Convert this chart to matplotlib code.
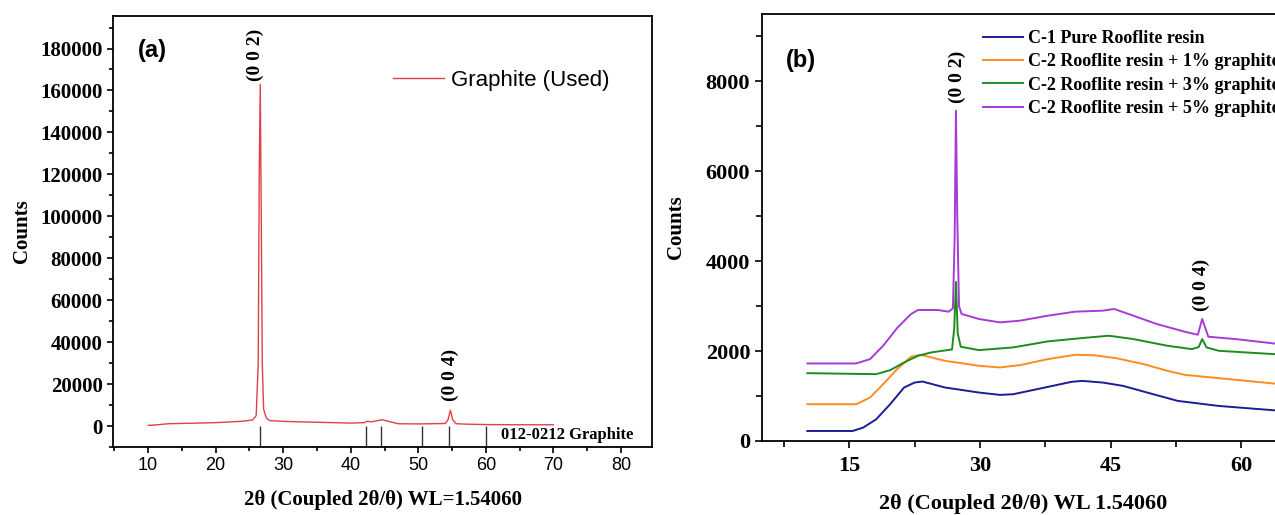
import matplotlib
matplotlib.use("Agg")
import matplotlib.pyplot as plt
from matplotlib.ticker import MultipleLocator

# ---------------- data (a) ----------------
graphite_x = [10, 11, 13, 16, 20, 24, 25.5, 26.0, 26.3, 26.45, 26.6, 26.75, 26.9, 27.1, 27.5, 28, 30, 35, 40,
              42.0, 42.4, 43.0, 44.0, 44.7, 45.5, 47, 50, 54.0, 54.4, 54.75, 55.1, 55.6, 57, 60, 65, 70]
graphite_y = [300, 500, 1100, 1300, 1600, 2300, 2900, 5000, 30000, 120000, 163000, 100000, 30000, 8000, 3800, 2600, 2200, 1800, 1400,
              1600, 2300, 2000, 2600, 3000, 2300, 1100, 1000, 1200, 3000, 7500, 3000, 1100, 900, 700, 600, 600]
ref_pattern = [26.5, 42.3, 44.5, 50.6, 54.6, 60.0]

# ---------------- data (b) ----------------
bx = [10.2, 15.4, 16.6, 18.1, 19.7, 21.3, 22.5, 23.4, 26.0, 29.9, 32.3, 33.8, 37.8, 40.5, 41.7, 44.1, 46.4, 49.6, 52.7, 57.4, 63.7, 66]
by = [223, 223, 297, 483, 818, 1190, 1300, 1323, 1190, 1078, 1026, 1040, 1204, 1316, 1338, 1300, 1227, 1056, 892, 780, 684, 660]

ox = [10.2, 15.8, 17.4, 18.9, 20.5, 22.1, 23.2, 26.0, 29.9, 32.3, 34.6, 37.8, 40.9, 42.9, 45.6, 48.8, 51.5, 53.5, 57.4, 63.7, 66]
oy = [818, 818, 967, 1264, 1599, 1874, 1918, 1784, 1673, 1636, 1688, 1822, 1918, 1911, 1844, 1710, 1561, 1472, 1398, 1279, 1260]

gx = [10.2, 18.1, 19.7, 21.3, 22.9, 24.4, 26.8, 27.05, 27.25, 27.45, 27.8, 29.9, 33.8, 37.8, 41.7, 44.8, 47.6, 51.5, 54.3, 55.1, 55.5, 56.0, 57.4, 63.7, 66]
gy = [1509, 1487, 1576, 1747, 1896, 1970, 2037, 2500, 3540, 2400, 2097, 2022, 2082, 2216, 2290, 2342, 2268, 2119, 2045, 2090, 2268, 2082, 2007, 1933, 1920]

px = [10.2, 15.8, 17.4, 18.9, 20.5, 22.1, 22.9, 25.2, 26.4, 26.9, 27.1, 27.25, 27.4, 27.6, 27.9, 29.9, 32.3, 34.6, 37.8, 40.9, 44.1, 45.4,
      47.6, 50.3, 53.5, 55.0, 55.5, 56.2, 59.3, 63.7, 66]
py = [1725, 1725, 1822, 2119, 2513, 2825, 2914, 2914, 2877, 2950, 4500, 7350, 5000, 3000, 2825, 2714, 2639, 2677, 2788, 2877, 2900, 2937,
      2788, 2602, 2431, 2364, 2714, 2320, 2268, 2171, 2150]

series_b = [
    (bx, by, "#1c1c96", "C-1 Pure Rooflite resin"),
    (ox, oy, "#ff8c1e", "C-2 Rooflite resin + 1% graphite"),
    (gx, gy, "#1e8c1e", "C-2 Rooflite resin + 3% graphite"),
    (px, py, "#a83ad8", "C-2 Rooflite resin + 5% graphite"),
]

W, H = 1275, 515
fig = plt.figure(figsize=(W / 100, H / 100), dpi=100)

serif = "Liberation Serif"
sans = "Liberation Sans"

# ---------------- panel (a) ----------------
axa = fig.add_axes([113 / W, (H - 447) / H, 539 / W, 431 / H])
axa.plot(graphite_x, graphite_y, color="#e0404a", lw=1.0, label="Graphite (Used)")
axa.vlines(ref_pattern, -10000, 0, color="#333333", lw=1.0)
axa.set_xlim(4.8, 84.6)
axa.set_ylim(-10000, 195500)
axa.xaxis.set_major_locator(MultipleLocator(10))
axa.xaxis.set_minor_locator(MultipleLocator(5))
axa.yaxis.set_major_locator(MultipleLocator(20000))
axa.yaxis.set_minor_locator(MultipleLocator(10000))
axa.tick_params(axis="both", which="major", direction="out", length=4, width=1.2)
axa.tick_params(axis="both", which="minor", direction="out", length=3, width=1.2)
for lab in axa.get_xticklabels():
    lab.set_fontfamily(sans); lab.set_fontsize(13)
for lab in axa.get_yticklabels():
    lab.set_fontfamily(serif); lab.set_fontsize(15); lab.set_fontweight("bold")
for s in axa.spines.values():
    s.set_linewidth(1.3)
axa.set_xlabel("2θ (Coupled 2θ/θ) WL=1.54060", fontfamily=serif, fontweight="bold", fontsize=15, labelpad=11)
axa.set_ylabel("Counts", fontfamily=serif, fontweight="bold", fontsize=15, labelpad=6)
axa.text(0.0724, 0.921, "(a)", transform=axa.transAxes, ha="center", va="center",
         fontfamily=sans, fontweight="bold", fontsize=17)
axa.text(25.9, 177000, "(0 0 2)", rotation=90, ha="center", va="center",
         fontfamily=serif, fontweight="bold", fontsize=14)
axa.text(54.8, 24300, "(0 0 4)", rotation=90, ha="center", va="center",
         fontfamily=serif, fontweight="bold", fontsize=14)
axa.text(62.2, -4300, "012-0212 Graphite", ha="left", va="center",
         fontfamily=serif, fontweight="bold", fontsize=12)
axa.legend(loc="upper left", bbox_to_anchor=(393 / W, 1 - 70 / H), bbox_transform=fig.transFigure,
           frameon=False, borderpad=0, borderaxespad=0, handlelength=2.3, handletextpad=0.3,
           prop={"family": sans, "size": 16})

# ---------------- panel (b) ----------------
axb = fig.add_axes([762 / W, (H - 441) / H, 523 / W, 427 / H])
for xs, ys, c, lab in series_b:
    axb.plot(xs, ys, color=c, lw=1.4, label=lab)
axb.set_xlim(5, 65)
axb.set_ylim(0, 9500)
axb.xaxis.set_major_locator(MultipleLocator(15))
axb.xaxis.set_minor_locator(MultipleLocator(7.5))
axb.yaxis.set_major_locator(MultipleLocator(2000))
axb.yaxis.set_minor_locator(MultipleLocator(1000))
axb.tick_params(axis="both", which="major", direction="out", length=5, width=1.2)
axb.tick_params(axis="both", which="minor", direction="out", length=4, width=1.2)
for lab in axb.get_xticklabels() + axb.get_yticklabels():
    lab.set_fontfamily(serif); lab.set_fontsize(16); lab.set_fontweight("bold")
axb.tick_params(axis="x", which="major", pad=6)
for s in axb.spines.values():
    s.set_linewidth(1.3)
axb.set_xlabel("2θ (Coupled 2θ/θ) WL 1.54060", fontfamily=serif, fontweight="bold", fontsize=16, labelpad=13)
axb.set_ylabel("Counts", fontfamily=serif, fontweight="bold", fontsize=15, labelpad=14)
axb.text(0.0746, 0.892, "(b)", transform=axb.transAxes, ha="center", va="center",
         fontfamily=sans, fontweight="bold", fontsize=17)
axb.text(27.4, 8100, "(0 0 2)", rotation=90, ha="center", va="center",
         fontfamily=serif, fontweight="bold", fontsize=14)
axb.text(55.4, 3470, "(0 0 4)", rotation=90, ha="center", va="center",
         fontfamily=serif, fontweight="bold", fontsize=14)
axb.legend(loc="upper left", bbox_to_anchor=(983 / W, 1 - 30 / H), bbox_transform=fig.transFigure,
           frameon=False, borderpad=0, borderaxespad=0, handlelength=2.2, handletextpad=0.3,
           labelspacing=0.35, prop={"family": serif, "size": 13, "weight": "bold"})

fig.savefig("out.png", dpi=100)
